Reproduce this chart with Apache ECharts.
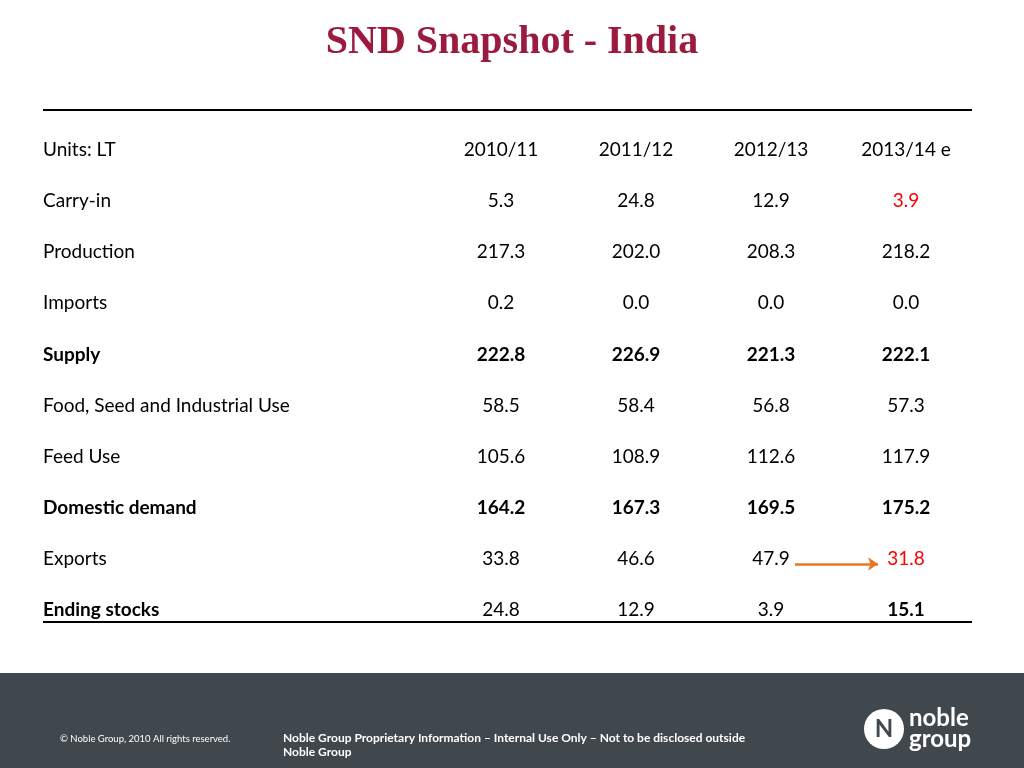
<!DOCTYPE html>
<html><head><meta charset="utf-8">
<script src="https://cdn.jsdelivr.net/npm/echarts@6/dist/echarts.min.js"></script>
<style>html,body{margin:0;padding:0;background:#fff}#c{width:1024px;height:768px}</style>
</head><body><div id="c"></div>
<script>
const columns = ['2010/11','2011/12','2012/13','2013/14 e'];
const rows = ['Units: LT','Carry-in','Production','Imports','Supply','Food, Seed and Industrial Use','Feed Use','Domestic demand','Exports','Ending stocks'];
const carryIn = ['5.3','24.8','12.9','3.9'];
const production = ['217.3','202.0','208.3','218.2'];
const imports = ['0.2','0.0','0.0','0.0'];
const supply = ['222.8','226.9','221.3','222.1'];
const foodSeed = ['58.5','58.4','56.8','57.3'];
const feedUse = ['105.6','108.9','112.6','117.9'];
const domestic = ['164.2','167.3','169.5','175.2'];
const exportsV = ['33.8','46.6','47.9','31.8'];
const ending = ['24.8','12.9','3.9','15.1'];
const boldRows = ['Supply','Domestic demand'];
const redCells = [['Carry-in',3],['Exports',3]];

const table = [columns,carryIn,production,imports,supply,foodSeed,feedUse,domestic,exportsV,ending];
const data = [];
table.forEach((vals,r)=>vals.forEach((v,c)=>{
  const row = rows[r];
  const bold = boldRows.includes(row) || (row==='Ending stocks' && c===3);
  const red = redCells.some(x=>x[0]===row && x[1]===c);
  data.push({value:[c,row,v],label:{fontWeight:bold?'bold':'normal',color:red?'#ff0000':'#000'}});
}));
const ch = echarts.init(document.getElementById('c'));
const band = 51.1;
ch.setOption({
  animation:false,
  textStyle:{fontFamily:'Lato'},
  grid:{left:43,right:52,top:150-band/2,height:band*10},
  xAxis:{type:'value',min:-(501-43)/135,max:(972-501)/135,show:false},
  yAxis:{type:'category',inverse:true,data:rows,axisLine:{show:false},axisTick:{show:false},splitLine:{show:false},
    axisLabel:{inside:true,align:'left',margin:0,fontSize:19,color:'#000',fontFamily:'Lato',
      formatter:v=>boldRows.includes(v)||v==='Ending stocks'?'{b|'+v+'}':v,
      rich:{b:{fontWeight:'bold',fontSize:19,fontFamily:'Lato',color:'#000'}}}},
  series:[{type:'scatter',symbolSize:0,data:data,itemStyle:{opacity:1},
    label:{show:true,position:'inside',fontSize:19,fontFamily:'Lato',opacity:1,formatter:p=>p.value[2]},
    markLine:{silent:true,symbol:['none','arrow'],symbolSize:10,label:{show:false},
      lineStyle:{color:'#e87722',width:2.5,type:'solid',opacity:1},
      data:[[{coord:[2+(795-771)/135,'Exports'],y:564},{coord:[3-(905-877)/135,'Exports'],y:564}]]}}],
  graphic:[
    {type:'text',left:'center',top:23,style:{text:'SND Snapshot - India',font:'bold 40px "Liberation Serif"',fill:'#9b1b3f'}},
    {type:'line',shape:{x1:43,y1:110,x2:972,y2:110},style:{stroke:'#000',lineWidth:2}},
    {type:'line',shape:{x1:43,y1:622,x2:972,y2:622},style:{stroke:'#000',lineWidth:2}},
    {type:'rect',shape:{x:0,y:673,width:1024,height:95},style:{fill:'#40474d'}},
    {type:'text',x:60,y:734,style:{text:'© Noble Group, 2010 All rights reserved.',font:'9.5px Lato',fill:'#fff'}},
    {type:'text',x:283,y:731,style:{text:'Noble Group Proprietary Information – Internal Use Only – Not to be disclosed outside\nNoble Group',font:'bold 12px Lato',fill:'#fff',lineHeight:14}},
    {type:'circle',shape:{cx:884,cy:729,r:20},style:{fill:'#fff'}},
    {type:'text',x:884,y:729,style:{text:'N',font:'bold 24px Lato',fill:'#40474d',align:'center',verticalAlign:'middle'}},
    {type:'text',x:909,y:708,style:{text:'noble\ngroup',font:'bold 24px Lato',fill:'#fff',lineHeight:21}}
  ]
});
</script></body></html>
